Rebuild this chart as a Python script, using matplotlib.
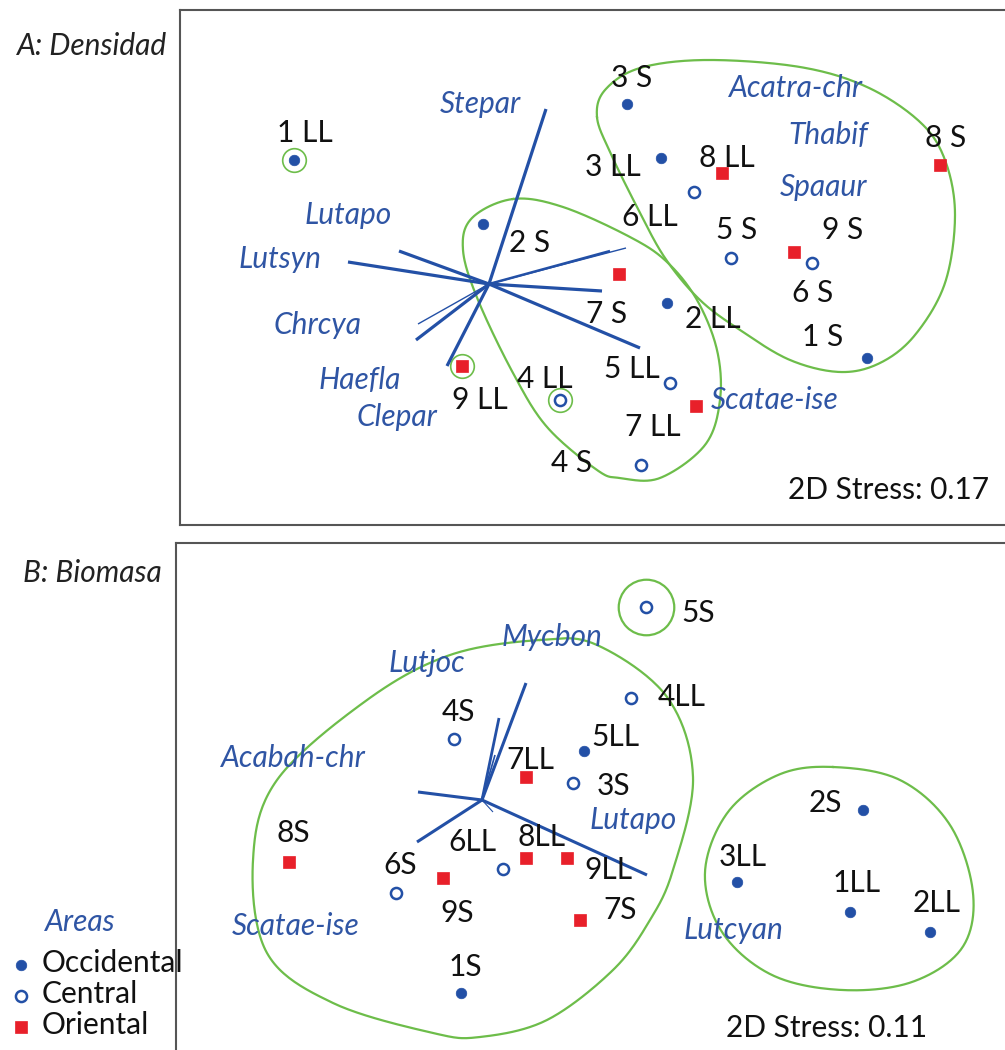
import numpy as np
import matplotlib
matplotlib.use('Agg')
import matplotlib.pyplot as plt

plt.rcParams['font.family'] = ['Lato', 'DejaVu Sans']

W, H = 1005, 1050

# ====== Panel A: Densidad (coordenadas MDS en px de la figura)
a_names = ['1 LL', '2 S', '3 S', '3 LL', '8 LL', '6 LL', '8 S', '5 S', '9 S',
           '6 S', '7 S', '2 LL', '1 S', '5 LL', '7 LL', '9 LL', '4 LL', '4 S']
a_x = [294, 483, 627, 661, 722, 694, 940, 731, 794, 812, 619, 667, 867, 670, 696, 462, 560, 641]
a_y = [160, 224, 104, 158, 173, 192, 165, 258, 252, 263, 274, 303, 358, 383, 406, 366, 400, 465]
a_area = ['Occ', 'Occ', 'Occ', 'Occ', 'Ori', 'Cen', 'Ori', 'Cen', 'Ori',
          'Cen', 'Ori', 'Occ', 'Occ', 'Cen', 'Ori', 'Ori', 'Cen', 'Cen']
a_solo = ['1 LL', '9 LL', '4 LL']

a_origin = (489, 284)
a_vec_x = [546, 348, 399, 626, 610, 602, 640, 418, 416, 447]
a_vec_y = [109, 262, 251, 248, 251, 291, 348, 324, 340, 366]
a_vec_w = [2.3, 2.3, 2.3, 1.0, 1.8, 2.3, 2.3, 1.0, 2.3, 2.3]

a_species = ['Stepar', 'Lutapo', 'Lutsyn', 'Chrcya', 'Haefla', 'Clepar',
             'Acatra-chr', 'Thabif', 'Spaaur', 'Scatae-ise']

# contornos de grupos (vertices)
a_hull1_x = [597, 610, 637, 665, 700, 740, 790, 840, 880, 915, 945, 955, 945, 920, 867, 800, 707, 640, 605]
a_hull1_y = [117, 152, 207, 258, 300, 330, 360, 372, 363, 335, 283, 215, 160, 122, 87, 67, 60, 68, 90]
a_hull2_x = [513, 563, 630, 667, 697, 717, 720, 705, 660, 620, 597, 547, 513, 478, 463, 472]
a_hull2_y = [199, 207, 237, 262, 300, 350, 400, 445, 478, 478, 470, 427, 373, 300, 250, 218]

# ====== Panel B: Biomasa
b_names = ['5S', '4LL', '5LL', '4S', '7LL', '3S', '8S', '6S', '9S', '6LL',
           '8LL', '9LL', '7S', '1S', '2S', '3LL', '1LL', '2LL']
b_x = [646, 631, 584, 454, 526, 573, 289, 396, 443, 503, 526, 567, 580, 461, 863, 737, 850, 930]
b_y = [607, 698, 751, 739, 777, 783, 862, 893, 878, 869, 858, 858, 920, 993, 810, 882, 912, 932]
b_area = ['Cen', 'Cen', 'Occ', 'Cen', 'Ori', 'Cen', 'Ori', 'Cen', 'Ori', 'Cen',
          'Ori', 'Ori', 'Ori', 'Occ', 'Occ', 'Occ', 'Occ', 'Occ']

b_origin = (482, 800)
b_vec_x = [526, 499, 495, 418, 417, 647, 493]
b_vec_y = [683, 718, 755, 792, 842, 875, 812]
b_vec_w = [2.2, 2.0, 1.2, 2.2, 2.2, 2.2, 0.8]

b_species = ['Lutjoc', 'Mycbon', 'Acabah-chr', 'Lutapo', 'Scatae-ise', 'Lutcyan']

b_hull1_x = [540, 597, 667, 693, 673, 650, 613, 547, 480, 433, 333, 267, 253, 277, 367, 450]
b_hull1_y = [640, 645, 697, 777, 870, 920, 970, 1020, 1037, 1033, 1003, 953, 860, 780, 700, 655]
b_hull2_x = [833, 900, 950, 973, 962, 912, 842, 772, 722, 705, 728, 778]
b_hull2_y = [767, 780, 825, 893, 948, 982, 990, 975, 932, 872, 812, 775]

# ====== Estilos
BLUE = '#2350a6'
TXTBLUE = '#2f55a4'
RED = '#e8202a'
GREEN = '#6dbd4a'
FS = 21.5

styles = {
    'Occ': dict(marker='o', ms=7.6, mfc=BLUE, mec=BLUE, mew=0.5),
    'Cen': dict(marker='o', ms=8.0, mfc='white', mec=BLUE, mew=1.8),
    'Ori': dict(marker='s', ms=8.8, mfc=RED, mec=RED, mew=0.5),
}

# posiciones de las etiquetas
a_lab = {'1 LL': (305, 133), '2 S': (530, 243), '3 S': (632, 78), '3 LL': (613, 167),
         '8 LL': (727, 158), '6 LL': (650, 217), '8 S': (946, 138), '5 S': (737, 230),
         '9 S': (843, 230), '6 S': (813, 293), '7 S': (607, 314), '2 LL': (713, 319),
         '1 S': (823, 337), '5 LL': (632, 369), '7 LL': (653, 427), '9 LL': (480, 400),
         '4 LL': (545, 379), '4 S': (572, 463)}
a_sp_lab = {'Stepar': (480, 104), 'Lutapo': (348, 215), 'Lutsyn': (280, 259),
            'Chrcya': (318, 325), 'Haefla': (360, 380), 'Clepar': (397, 417),
            'Acatra-chr': (796, 88), 'Thabif': (828, 135), 'Spaaur': (824, 187),
            'Scatae-ise': (775, 400)}
b_lab = {'5S': (698, 613), '4LL': (682, 697), '5LL': (615, 737), '4S': (458, 712),
         '7LL': (530, 760), '3S': (613, 786), '8S': (293, 833), '6S': (400, 865),
         '9S': (457, 913), '6LL': (472, 842), '8LL': (542, 837), '9LL': (608, 870),
         '7S': (620, 910), '1S': (465, 967), '2S': (825, 803), '3LL': (743, 857),
         '1LL': (857, 883), '2LL': (937, 903)}
b_sp_lab = {'Lutjoc': (427, 663), 'Mycbon': (552, 637), 'Acabah-chr': (293, 758),
            'Lutapo': (633, 820), 'Scatae-ise': (296, 926), 'Lutcyan': (733, 930)}


def smooth_closed(px, py, n=24):
    # spline Catmull-Rom cerrada sobre los vertices
    pts = np.column_stack([px, py]).astype(float)
    m = len(pts)
    t = np.linspace(0, 1, n, endpoint=False)[:, None]
    segs = []
    for i in range(m):
        p0, p1, p2, p3 = pts[(i - 1) % m], pts[i], pts[(i + 1) % m], pts[(i + 2) % m]
        segs.append(0.5 * (2 * p1 + (p2 - p0) * t + (2 * p0 - 5 * p1 + 4 * p2 - p3) * t ** 2
                           + (3 * p1 - p0 - 3 * p2 + p3) * t ** 3))
    out = np.vstack(segs + [segs[0][:1]])
    return out[:, 0], out[:, 1]


def px_axes(left, top, right, bottom):
    ax = fig.add_axes([left / W, 1 - bottom / H, (right - left) / W, (bottom - top) / H])
    ax.set_xlim(left, right)
    ax.set_ylim(bottom, top)
    ax.set_facecolor('none')
    ax.set_xticks([])
    ax.set_yticks([])
    for s in ax.spines.values():
        s.set_color('#555555')
        s.set_linewidth(1.5)
    return ax


def draw_panel(ax, names, xs, ys, areas, labs, origin, vx, vy, vw, species, sp_labs, hulls):
    for hx, hy in hulls:
        sx, sy = smooth_closed(hx, hy)
        ax.plot(sx, sy, color=GREEN, lw=1.6, zorder=1)
    for ex, ey, w in zip(vx, vy, vw):
        ax.plot([origin[0], ex], [origin[1], ey], color=BLUE, lw=w,
                solid_capstyle='butt', zorder=2)
    for name, x, y, a in zip(names, xs, ys, areas):
        ax.plot(x, y, ls='none', zorder=3, **styles[a])
        lx, ly = labs[name]
        ax.text(lx, ly, name, fontsize=FS, color='#111111', ha='center', va='center', zorder=4)
    for sp in species:
        lx, ly = sp_labs[sp]
        ax.text(lx, ly, sp, fontsize=FS, color=TXTBLUE, style='italic',
                ha='center', va='center', zorder=4)


fig = plt.figure(figsize=(W / 100, H / 100), dpi=100)
bg = fig.add_axes([0, 0, 1, 1])
bg.set_xlim(0, W)
bg.set_ylim(H, 0)
bg.axis('off')

# Panel A
axA = px_axes(180, 10, 1015, 525)
draw_panel(axA, a_names, a_x, a_y, a_area, a_lab, a_origin, a_vec_x, a_vec_y, a_vec_w,
           a_species, a_sp_lab, [(a_hull1_x, a_hull1_y), (a_hull2_x, a_hull2_y)])
for name, x, y in zip(a_names, a_x, a_y):
    if name in a_solo:
        axA.plot(x, y, marker='o', ms=17, mfc='none', mec=GREEN, mew=1.2, zorder=1)
axA.text(888, 490, '2D Stress: 0.17', fontsize=FS, color='#111111', ha='center', va='center')

# Panel B
axB = px_axes(176, 543, 1015, 1065)
draw_panel(axB, b_names, b_x, b_y, b_area, b_lab, b_origin, b_vec_x, b_vec_y, b_vec_w,
           b_species, b_sp_lab, [(b_hull1_x, b_hull1_y), (b_hull2_x, b_hull2_y)])
axB.plot(b_x[0], b_y[0], marker='o', ms=40, mfc='none', mec=GREEN, mew=1.6, zorder=1)
axB.text(827, 1028, '2D Stress: 0.11', fontsize=FS, color='#111111', ha='center', va='center')

# titulos de paneles
bg.text(92, 46, 'A: Densidad', fontsize=FS, style='italic', color='#222222',
        ha='center', va='center')
bg.text(92, 573, 'B: Biomasa', fontsize=FS, style='italic', color='#222222',
        ha='center', va='center')

# leyenda de areas
bg.text(80, 922, 'Areas', fontsize=FS, style='italic', color=TXTBLUE, ha='center', va='center')
for i, (key, lab) in enumerate([('Occ', 'Occidental'), ('Cen', 'Central'), ('Ori', 'Oriental')]):
    yy = 965 + 31 * i
    bg.plot(21, yy, ls='none', **styles[key])
    bg.text(42, yy - 2, lab, fontsize=FS, color='#111111', ha='left', va='center', zorder=10)

fig.savefig('out.png', dpi=100)
